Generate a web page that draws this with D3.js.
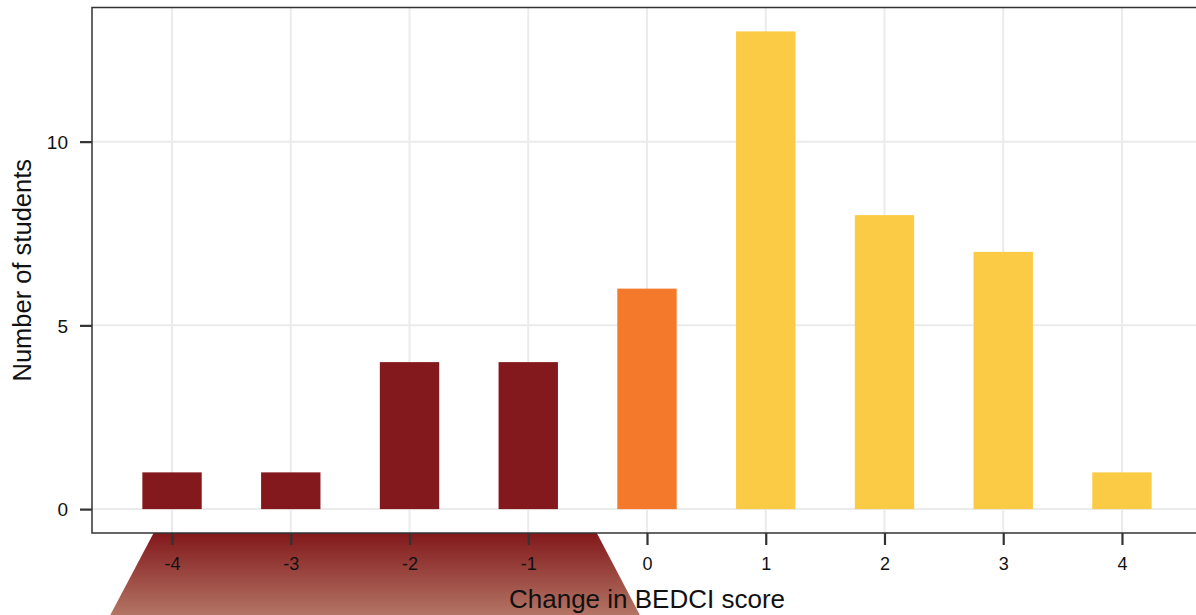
<!DOCTYPE html>
<html><head><meta charset="utf-8">
<script src="https://cdn.jsdelivr.net/npm/d3@7"></script>
<style>body{margin:0;background:#fff}svg{display:block}text{font-family:"Liberation Sans",Arial,sans-serif}</style>
</head><body>
<svg id="c" width="1196" height="615"></svg>
<script>
const categories = [-4, -3, -2, -1, 0, 1, 2, 3, 4];
const counts = [1, 1, 4, 4, 6, 13, 8, 7, 1];
const groups = ["down", "down", "down", "down", "same", "up", "up", "up", "up"];
const yTicks = [0, 5, 10];
const xTitle = "Change in BEDCI score";
const yTitle = "Number of students";
const colors = {down: "#83191c", same: "#f4792b", up: "#fccb45"};

const svg = d3.select("#c");
const L = 92, R = 1202, T = 7.5, B = 533;
const x = d3.scaleLinear().domain([-4.674, 4.674]).range([L, R]);
const y = d3.scaleLinear().domain([-0.65, 13.65]).range([B, T]);

// gradient callout shape below panel
const defs = svg.append("defs");
const g = defs.append("linearGradient").attr("id", "gr").attr("x1", 0).attr("y1", 0).attr("x2", 0).attr("y2", 1);
g.append("stop").attr("offset", "0%").attr("stop-color", "#82181b");
g.append("stop").attr("offset", "100%").attr("stop-color", "#b37565");
svg.append("path")
  .attr("d", `M${x(-4.155)},${B} L${x(-0.423)},${B} L${x(-0.06)},615 L${x(-4.52)},615 Z`)
  .attr("fill", "url(#gr)");

// panel background
svg.append("rect").attr("x", L).attr("y", T).attr("width", R - L).attr("height", B - T).attr("fill", "#fff");

// grid
svg.append("g").selectAll("line").data(categories).join("line")
  .attr("x1", d => x(d)).attr("x2", d => x(d)).attr("y1", T).attr("y2", B)
  .attr("stroke", "#ebebeb").attr("stroke-width", 2);
svg.append("g").selectAll("line").data(yTicks).join("line")
  .attr("x1", L).attr("x2", R).attr("y1", d => y(d)).attr("y2", d => y(d))
  .attr("stroke", "#ebebeb").attr("stroke-width", 2);

// bars
const bw = x(0.25) - x(-0.25);
svg.append("g").selectAll("rect").data(categories).join("rect")
  .attr("x", d => x(d) - bw / 2).attr("width", bw)
  .attr("y", (d, i) => y(counts[i])).attr("height", (d, i) => y(0) - y(counts[i]))
  .attr("fill", (d, i) => colors[groups[i]]);

// panel border
svg.append("rect").attr("x", L).attr("y", T).attr("width", R - L).attr("height", B - T)
  .attr("fill", "none").attr("stroke", "#333").attr("stroke-width", 1.5);

// axes
const xa = svg.append("g").attr("transform", `translate(0,${B})`)
  .call(d3.axisBottom(x).tickValues(categories).tickSize(12).tickPadding(8).tickFormat(d3.format("d")));
const ya = svg.append("g").attr("transform", `translate(${L},0)`)
  .call(d3.axisLeft(y).tickValues(yTicks).tickSize(12).tickPadding(10));
[xa, ya].forEach(a => {
  a.select(".domain").remove();
  a.attr("font-size", null).attr("font-family", null);
  a.selectAll(".tick line").attr("stroke", "#333").attr("stroke-width", 2.2);
  a.selectAll(".tick text").attr("fill", "#111");
});
xa.selectAll(".tick text").style("font-size", "18px").attr("dy", null).attr("y", 37)
  .text(d => d < 0 ? "-" + Math.abs(d) : d);
ya.selectAll(".tick text").style("font-size", "19px").attr("dy", "0.35em").attr("x", -24);

svg.append("text").attr("x", x(0)).attr("y", 608).attr("text-anchor", "middle")
  .style("font-size", "26px").attr("fill", "#111").text(xTitle);
svg.append("text").attr("transform", `translate(31,${(T + B) / 2}) rotate(-90)`).attr("text-anchor", "middle")
  .style("font-size", "25.5px").attr("fill", "#111").text(yTitle);
</script>
</body></html>
